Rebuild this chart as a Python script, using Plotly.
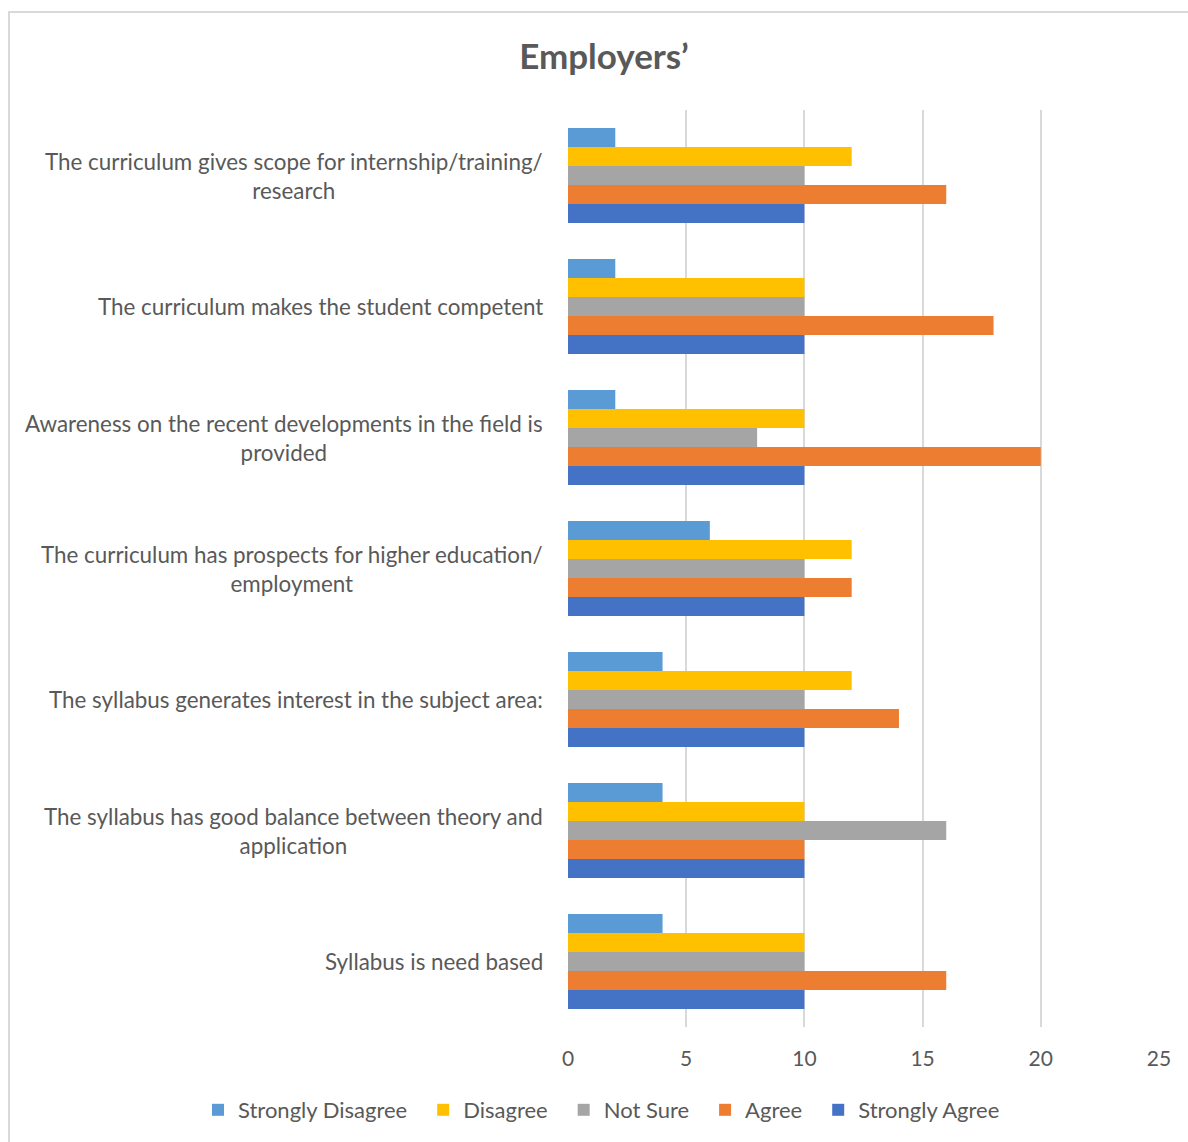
import plotly.graph_objects as go

categories = [
    "The curriculum gives scope for internship/training/<br>research",
    "The curriculum makes the student competent",
    "Awareness on the recent developments in the field is<br>provided",
    "The curriculum has prospects for higher education/<br>employment",
    "The syllabus generates interest in the subject area:",
    "The syllabus has good balance between theory and<br>application",
    "Syllabus is need based",
]
series_names = ["Strongly Disagree", "Disagree", "Not Sure", "Agree", "Strongly Agree"]
strongly_disagree = [2, 2, 2, 6, 4, 4, 4]
disagree = [12, 10, 10, 12, 12, 10, 10]
not_sure = [10, 10, 8, 10, 10, 16, 10]
agree = [16, 18, 20, 12, 14, 10, 16]
strongly_agree = [10, 10, 10, 10, 10, 10, 10]
series_values = [strongly_disagree, disagree, not_sure, agree, strongly_agree]
colors = ["#5B9BD5", "#FFC000", "#A5A5A5", "#ED7D31", "#4472C4"]
x_ticks = [0, 5, 10, 15, 20, 25]

FONT = "Lato, Carlito, Calibri, sans-serif"
TXT = "#595959"
W, H = 1188, 1142
L, R, T, B = 568, 29, 110, 115
PW, PH = W - L - R, H - T - B

fig = go.Figure()
for name, vals, col in zip(series_names, series_values, colors):
    fig.add_trace(go.Bar(
        y=categories, x=vals, name=name + "\u2002", orientation="h",
        marker=dict(color=col, line=dict(width=0)),
    ))

annotations = []
for c in categories:
    annotations.append(dict(
        x=0, xref="paper", y=c, yref="y", text=c, showarrow=False,
        xanchor="right", yanchor="middle", align="center", xshift=-23,
        font=dict(family=FONT, size=22.4, color=TXT),
    ))

fig.update_layout(
    width=W, height=H,
    margin=dict(l=L, r=R, t=T, b=B, autoexpand=False),
    paper_bgcolor="white", plot_bgcolor="white",
    barmode="group", bargap=0.275, bargroupgap=0,
    font=dict(family=FONT, size=20, color=TXT),
    title=dict(text="<b>Employers’</b>", x=(604) / W, xref="container", xanchor="center",
               y=1 - 57 / H, yref="container", yanchor="middle",
               font=dict(family=FONT, size=35, color=TXT)),
    xaxis=dict(range=[0, 25], tickvals=x_ticks, showgrid=True, gridcolor="#D9D9D9",
               gridwidth=1.5, zeroline=False, showline=False, ticks="",
               ticklabelstandoff=17, tickfont=dict(family=FONT, size=21, color=TXT)),
    yaxis=dict(categoryorder="array", categoryarray=categories, autorange="reversed",
               showticklabels=False, showgrid=False, zeroline=False, showline=False),
    legend=dict(orientation="h", xref="paper", yref="paper",
                x=(198 - L) / PW, xanchor="left", y=-(1110 - (H - B)) / PH, yanchor="middle",
                font=dict(family=FONT, size=22, color=TXT), itemwidth=30,
                traceorder="normal"),
    annotations=annotations,
    shapes=[dict(type="rect", xref="paper", yref="paper",
                 x0=(9 - L) / PW, x1=(1210 - L) / PW,
                 y0=((H - B) - 1170) / PH, y1=((H - B) - 12) / PH,
                 line=dict(color="#D9D9D9", width=2), fillcolor="rgba(0,0,0,0)",
                 layer="below")],
)

fig.write_html("out.html", config={"displayModeBar": False},
               post_script="document.body.style.margin='0';document.body.style.padding='0';document.body.style.overflow='hidden';")
